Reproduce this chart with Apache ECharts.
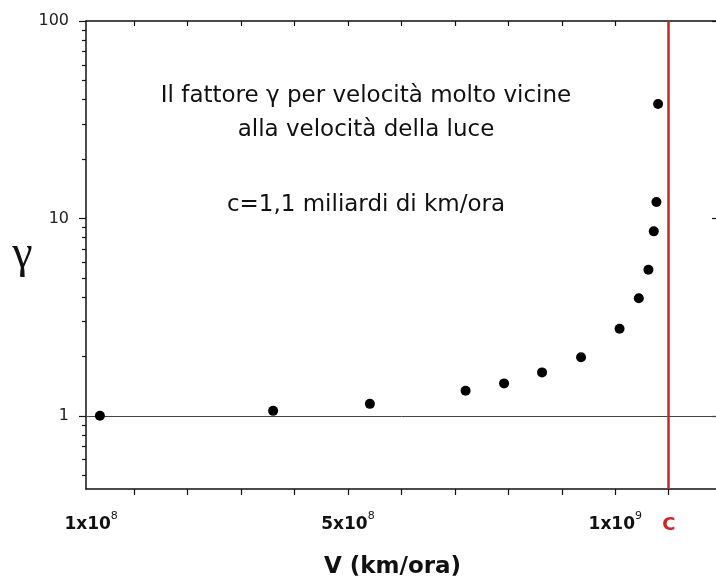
<!DOCTYPE html>
<html><head><meta charset="utf-8">
<script src="https://cdn.jsdelivr.net/npm/echarts@6/dist/echarts.min.js"></script>
<style>html,body{margin:0;padding:0;background:#fff}#c{width:716px;height:577px}</style>
</head><body><div id="c"></div>
<script>
// ---- data ----
const velocity = [3.6e7, 3.60e8, 5.41e8, 7.20e8, 7.92e8, 8.63e8, 9.36e8, 1.008e9, 1.044e9, 1.062e9, 1.072e9, 1.077e9, 1.080e9];
const gamma    = [1.00, 1.06, 1.15, 1.34, 1.46, 1.66, 1.98, 2.76, 3.94, 5.49, 8.6, 12.1, 38.0];
const lightSpeed = 1.1e9;
const xTickValues = [1e8, 2e8, 3e8, 4e8, 5e8, 6e8, 7e8, 8e8, 9e8, 1e9, 1.1e9];
const xLabelValues = [1e8, 5e8, 1e9, 1.1e9];
const xLabelMantissa = ['1x10', '5x10', '1x10', 'C'];
const xLabelExponent = ['8', '8', '9', ''];
const yMajorTicks = [1, 10, 100];
const yMinorTicks = [0.5, 0.6, 0.7, 0.8, 0.9, 2, 3, 4, 5, 6, 7, 8, 9, 20, 30, 40, 50, 60, 70, 80, 90];
const annotationLines = ['Il fattore \u03b3 per velocit\u00e0 molto vicine', 'alla velocit\u00e0 della luce', 'c=1,1 miliardi di km/ora'];

const X_MIN = 1e7, X_MAX = 1.194e9, Y_MIN = 0.426, Y_MAX = 100;
const FONT = 'DejaVu Sans';
const INK = '#111';
const RED = '#d02424';

const chart = echarts.init(document.getElementById('c'), null, {renderer: 'canvas'});

function xLabelFormatter(value) {
  const i = xLabelValues.findIndex(v => Math.abs(v - value) < 1);
  if (i < 0) return '';
  if (xLabelMantissa[i] === 'C') return '{c|C}';
  if (i === 0) return '{m|' + xLabelMantissa[i] + '}{sl|' + xLabelExponent[i] + '}';
  return '{m|' + xLabelMantissa[i] + '}{s|' + xLabelExponent[i] + '}';
}

const axisLineStyle = {color: '#111', width: 1.5};
const tickStyle = {color: '#111', width: 1.2};

chart.setOption({
  animation: false,
  backgroundColor: '#fff',
  grid: {left: 86, right: -3, top: 21, bottom: 88, containLabel: false, outerBoundsMode: 'none'},
  xAxis: [
    {
      type: 'value', position: 'bottom', min: X_MIN, max: X_MAX,
      axisLine: {show: true, lineStyle: axisLineStyle},
      axisTick: {show: true, inside: false, length: 6, customValues: xTickValues, lineStyle: tickStyle},
      splitLine: {show: false},
      axisLabel: {
        show: true, customValues: xLabelValues, margin: 22, formatter: xLabelFormatter,
        rich: {
          m: {fontFamily: FONT, fontSize: 17, fontWeight: 'bold', color: INK, lineHeight: 28},
          s: {fontFamily: FONT, fontSize: 11, color: INK, lineHeight: 11, padding: [0, 0, 17, 0]},
          sl: {fontFamily: FONT, fontSize: 11, color: INK, lineHeight: 11, padding: [0, 86, 17, 0]},
          c: {fontFamily: FONT, fontSize: 18, fontWeight: 'bold', color: RED, lineHeight: 28}
        }
      },
      name: 'V (km/ora)', nameLocation: 'middle', nameGap: 67,
      nameTextStyle: {fontFamily: FONT, fontSize: 23, fontWeight: 'bold', color: INK, padding: [0, 20, 0, 0]}
    },
    {
      type: 'value', position: 'top', min: X_MIN, max: X_MAX,
      axisLine: {show: true, lineStyle: axisLineStyle},
      axisTick: {show: true, inside: true, length: 5, customValues: xTickValues, lineStyle: tickStyle},
      axisLabel: {show: false}, splitLine: {show: false}
    }
  ],
  yAxis: [
    {
      type: 'log', logBase: 10, position: 'left', min: Y_MIN, max: Y_MAX,
      axisLine: {show: true, lineStyle: axisLineStyle},
      axisTick: {show: true, inside: false, length: 7, customValues: yMajorTicks, lineStyle: tickStyle},
      axisLabel: {show: true, customValues: yMajorTicks, margin: 17, fontFamily: FONT, fontSize: 16, color: '#222'},
      splitLine: {show: false}, minorTick: {show: false},
      name: '\u03b3', nameLocation: 'middle', nameRotate: 0, nameGap: 52,
      nameTextStyle: {fontFamily: 'Liberation Serif', fontSize: 46, color: INK}
    },
    {
      type: 'log', logBase: 10, position: 'left', min: Y_MIN, max: Y_MAX,
      axisLine: {show: false},
      axisTick: {show: true, inside: false, length: 4, customValues: yMinorTicks, lineStyle: tickStyle},
      axisLabel: {show: false}, splitLine: {show: false}
    },
    {
      type: 'log', logBase: 10, position: 'right', min: Y_MIN, max: Y_MAX,
      axisLine: {show: true, lineStyle: axisLineStyle},
      axisTick: {show: true, inside: true, length: 7, customValues: yMajorTicks, lineStyle: tickStyle},
      axisLabel: {show: false}, splitLine: {show: false}
    }
  ],
  graphic: annotationLines.map((t, i) => ({
    type: 'text', silent: true,
    style: {text: t, x: 366, y: [96, 130, 205][i], textAlign: 'center', textVerticalAlign: 'middle',
            font: '23px "' + FONT + '"', fill: INK}
  })),
  series: [{
    type: 'scatter', xAxisIndex: 0, yAxisIndex: 0,
    data: velocity.map((v, i) => [v, gamma[i]]),
    symbol: 'circle', symbolSize: 10,
    itemStyle: {color: '#000', opacity: 1},
    z: 5,
    markLine: {
      silent: true, symbol: ['none', 'none'], label: {show: false}, animation: false,
      data: [
        {yAxis: 1, lineStyle: {color: '#444', width: 1, type: 'solid', opacity: 1}},
        {xAxis: lightSpeed, lineStyle: {color: RED, width: 2.5, type: 'solid', opacity: 1}}
      ]
    }
  }]
});
</script>
</body></html>
